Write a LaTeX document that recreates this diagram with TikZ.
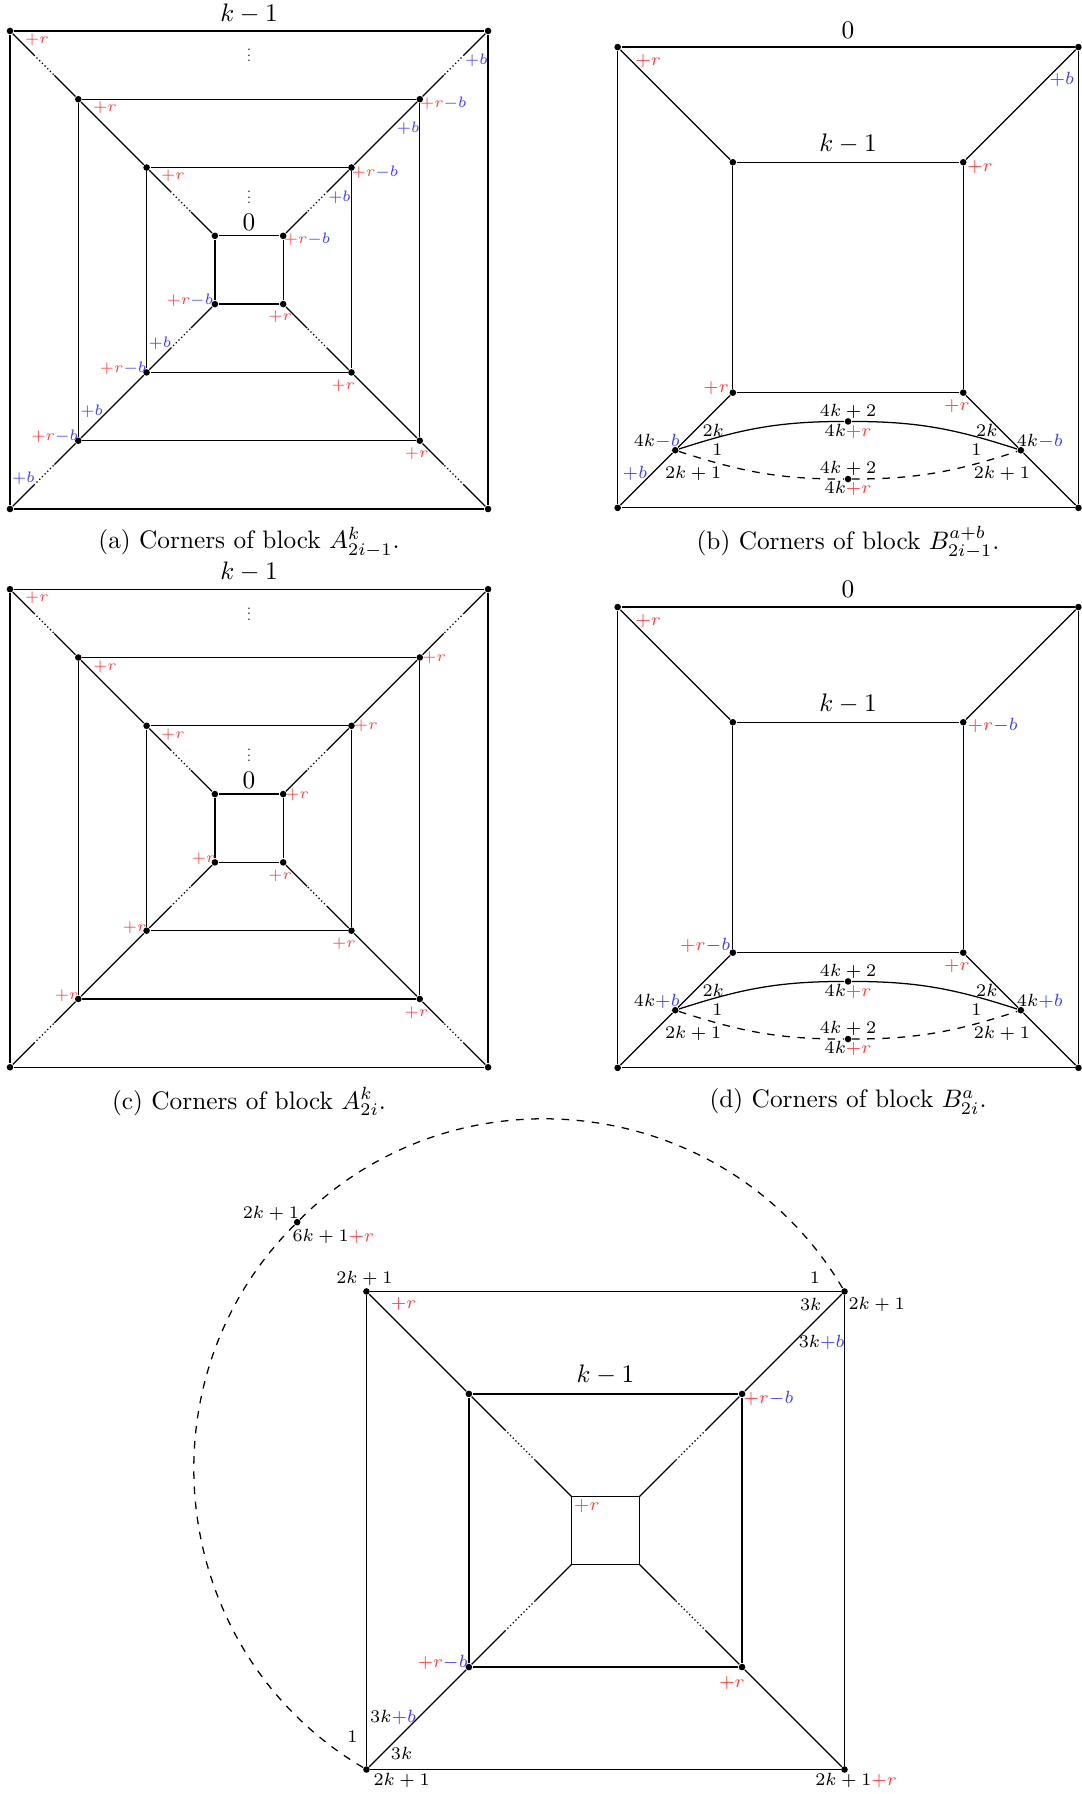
\documentclass[tikz,border=0pt]{standalone}
\usepackage{amsmath,amssymb}
\usepackage{tikz}
\usetikzlibrary{calc}

\definecolor{rcol}{RGB}{255,64,64}
\definecolor{bcol}{RGB}{64,64,255}
\newcommand{\rplus}{{\color{rcol}+r}}
\newcommand{\bplus}{{\color{bcol}+b}}
\newcommand{\bminus}{{\color{bcol}-b}}
\newcommand{\sixpt}{\fontsize{6}{7}\selectfont}

\tikzset{
  vtx/.style={circle, fill, inner sep=0pt, minimum size=2.6pt},
  la/.style={font=\sixpt, inner sep=0pt},
  lb/.style={font=\scriptsize, inner sep=0pt}
}

% solid - dotted - solid spoke
\newcommand{\spoke}[2]{%
  \draw (#1) -- ($(#1)!.35!(#2)$);
  \draw[densely dotted] ($(#1)!.35!(#2)$) -- ($(#1)!.65!(#2)$);
  \draw ($(#1)!.65!(#2)$) -- (#2);}

% four nested squares of an A block
\newcommand{\nest}[1]{%
  \foreach \s in {1,3,5,7} {
    \node[vtx] (#1ne\s) at (\s,\s) {};
    \node[vtx] (#1nw\s) at (-\s,\s) {};
    \node[vtx] (#1sw\s) at (-\s,-\s) {};
    \node[vtx] (#1se\s) at (\s,-\s) {};
    \draw (#1nw\s) -- (#1ne\s) -- (#1se\s) -- (#1sw\s) -- (#1nw\s);
  }
  \foreach \cn in {ne,nw,sw,se} {
    \spoke{#1\cn7}{#1\cn5}
    \draw (#1\cn5) -- (#1\cn3);
    \spoke{#1\cn3}{#1\cn1}
  }}

% frame of a B block with the two arches
\newcommand{\bframe}[1]{%
  \foreach \s in {2,4} {
    \node[vtx] (#1ne\s) at (\s,\s) {};
    \node[vtx] (#1nw\s) at (-\s,\s) {};
    \node[vtx] (#1sw\s) at (-\s,-\s) {};
    \node[vtx] (#1se\s) at (\s,-\s) {};
    \draw (#1nw\s) -- (#1ne\s) -- (#1se\s) -- (#1sw\s) -- (#1nw\s);
  }
  \node[vtx] (#1ml) at (-3,-3) {};
  \node[vtx] (#1mr) at (3,-3) {};
  \node[vtx] (#1tp) at (0,-2.5) {};
  \node[vtx] (#1bt) at (0,-3.5) {};
  \draw (#1nw4) -- (#1nw2);
  \draw (#1ne4) -- (#1ne2);
  \draw (#1sw4) -- (#1ml) -- (#1sw2);
  \draw (#1se4) -- (#1mr) -- (#1se2);
  \draw (#1ml) to[out=18,in=180] (#1tp) to[out=0,in=162] (#1mr);
  \draw[dashed] (#1ml) to[out=-18,in=180] (#1bt) to[out=0,in=198] (#1mr);
  \node[above] (#1z) at (0,4) {$0$};
  \node[above] (#1k) at (0,2) {$k-1$};
  \foreach \x/\y/\lab [count=\n] in {-2.34/-2.66/2k, 2.41/-2.66/2k,
      -2.27/-2.99/1, 2.23/-2.99/1, -2.69/-3.40/2k+1, 2.67/-3.40/2k+1,
      0/-2.32/4k+2, 0/-2.68/4k\rplus, 0/-3.31/4k+2, 0/-3.67/4k\rplus}
    \node[lb] (#1w\n) at (\x,\y) {$\lab$};}

\begin{document}
\begin{tikzpicture}[line width=0.5pt]
\useasboundingbox (0,0) rectangle (15.015,24.918);

% (a)
\begin{scope}[shift={(3.459,21.168)}, x=0.4743cm, y=0.4743cm]
  \nest{a}
  \node[above, inner sep=2.8pt] (ak) at (0,7) {$k-1$};
  \node[above, inner sep=2pt] (az) at (0,1) {$0$};
  \node[scale=.55] (ad1) at (0,6.4) {$\vdots$};
  \node[scale=.55] (ad2) at (0,2.25) {$\vdots$};
  \foreach \x/\y/\lab [count=\n] in {-6.21/6.73/\rplus, -4.22/4.74/\rplus,
      -2.23/2.75/\rplus, 6.66/6.13/\bplus, 4.66/4.15/\bplus, 2.65/2.12/\bplus,
      -6.61/-6.10/\bplus, -4.61/-4.13/\bplus, -2.61/-2.14/\bplus,
      5.69/4.87/\rplus\bminus, 3.69/2.87/\rplus\bminus, 1.70/0.90/\rplus\bminus,
      -1.73/-0.88/\rplus\bminus, -3.69/-2.87/\rplus\bminus, -5.69/-4.87/\rplus\bminus,
      0.91/-1.38/\rplus, 2.76/-3.39/\rplus, 4.91/-5.37/\rplus}
    \node[la] (al\n) at (\x,\y) {$\lab$};
\end{scope}

% (b)
\begin{scope}[shift={(11.779,21.064)}, x=0.8cm, y=0.8cm]
  \bframe{b}
  \foreach \x/\y/\lab [count=\n] in {-3.47/3.75/\rplus, 3.71/3.43/\bplus,
      2.29/1.92/\rplus, -2.29/-1.92/\rplus, 1.89/-2.24/\rplus,
      -3.32/-2.84/4k\bminus, 3.33/-2.84/4k\bminus, -3.70/-3.40/\bplus}
    \node[lb] (bl\n) at (\x,\y) {$\lab$};
\end{scope}

% (c)
\begin{scope}[shift={(3.459,13.414)}, x=0.4743cm, y=0.4743cm]
  \nest{c}
  \node[above, inner sep=2.8pt] (ck) at (0,7) {$k-1$};
  \node[above, inner sep=2pt] (cz) at (0,1) {$0$};
  \node[scale=.55] (cd1) at (0,6.4) {$\vdots$};
  \node[scale=.55] (cd2) at (0,2.25) {$\vdots$};
  \foreach \x/\y/\lab [count=\n] in {-6.21/6.75, -4.22/4.72, -2.23/2.73,
      5.42/4.99, 3.42/3.0, 1.41/0.98, -1.33/-0.90, -3.35/-2.91, -5.34/-4.89,
      0.91/-1.40, 2.78/-3.37, 4.90/-5.40}
    \node[la] (cl\n) at (\x,\y) {$\rplus$};
\end{scope}

% (d)
\begin{scope}[shift={(11.779,13.286)}, x=0.8cm, y=0.8cm]
  \bframe{d}
  \foreach \x/\y/\lab [count=\n] in {-3.47/3.75/\rplus, 2.51/1.94/\rplus\bminus,
      -2.48/-1.88/\rplus\bminus, 1.89/-2.24/\rplus,
      -3.32/-2.84/4k\bplus, 3.33/-2.84/4k\bplus}
    \node[lb] (dl\n) at (\x,\y) {$\lab$};
\end{scope}

% captions
\node (capa) at (3.459,17.388) {(a) Corners of block $A^k_{2i-1}$.};
\node (capb) at (11.779,17.388) {(b) Corners of block $B^{a+b}_{2i-1}$.};
\node (capc) at (3.459,9.617) {(c) Corners of block $A^k_{2i}$.};
\node (capd) at (11.779,9.617) {(d) Corners of block $B^a_{2i}$.};

% (e) gadget
\begin{scope}[shift={(8.410,3.660)}, x=0.4743cm, y=0.4743cm]
  \foreach \s in {4,7} {
    \node[vtx] (ene\s) at (\s,\s) {};
    \node[vtx] (enw\s) at (-\s,\s) {};
    \node[vtx] (esw\s) at (-\s,-\s) {};
    \node[vtx] (ese\s) at (\s,-\s) {};
  }
  \coordinate (ene1) at (1,1);
  \coordinate (enw1) at (-1,1);
  \coordinate (esw1) at (-1,-1);
  \coordinate (ese1) at (1,-1);
  \foreach \s in {1,4,7}
    \draw (enw\s) -- (ene\s) -- (ese\s) -- (esw\s) -- (enw\s);
  \foreach \cn in {ne,nw,sw,se} {
    \draw (e\cn7) -- (e\cn4);
    \spoke{e\cn4}{e\cn1}
  }
  \node[vtx] (ev) at (-9.028,9.028) {};
  \draw[dashed] (ene7) to[out=120.6,in=45,looseness=1.05] (ev)
    to[out=225,in=149.4,looseness=1.05] (esw7);
  \node[above] (ek) at (0,4) {$k-1$};
  \foreach \x/\y/\lab [count=\n] in {-9.80/9.29/2k+1, -7.97/8.60/6k+1\rplus,
      -7.06/7.39/2k+1, -5.91/6.63/\rplus, 6.13/7.40/1, 6.01/6.63/3k,
      7.94/6.63/2k+1, 6.33/5.51/3k\bplus, 4.77/3.87/\rplus\bminus,
      -0.55/0.72/\rplus, -4.77/-3.85/\rplus\bminus, 3.70/-4.46/\rplus,
      -6.22/-5.46/3k\bplus, -7.41/-6.03/1, -5.97/-6.53/3k,
      -5.97/-7.31/2k+1, 7.34/-7.31/2k+1\rplus}
    \node[lb] (el\n) at (\x,\y) {$\lab$};
\end{scope}
\end{tikzpicture}
\end{document}
